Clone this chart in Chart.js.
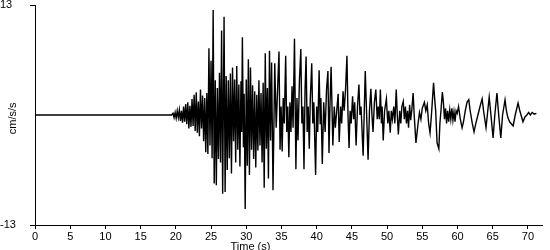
<!DOCTYPE html>
<html>
<head>
<meta charset="utf-8">
<script src="https://cdn.jsdelivr.net/npm/chart.js@4"></script>
<style>
  html, body { margin: 0; padding: 0; background: #fff; }
  #accel_chart { display: block; }
</style>
</head>
<body>
<canvas id="accel_chart" width="550" height="250"></canvas>
<script>
// time (s) and acceleration (cm/s/s)
var time = [
  0, 19.4, 19.6, 19.75, 19.9, 20.05, 20.2, 20.35, 20.5, 20.65,
  20.8, 20.95, 21.1, 21.25, 21.4, 21.55, 21.7, 21.85, 22.0, 22.15,
  22.3, 22.45, 22.6, 22.75, 22.9, 23.05, 23.2, 23.35, 23.5, 23.65,
  23.8, 23.95, 24.1, 24.25, 24.4, 24.55, 24.7, 24.85, 25.0, 25.15,
  25.3, 25.45, 25.6, 25.75, 25.9, 26.05, 26.2, 26.35, 26.5, 26.65,
  26.85, 27.0, 27.15, 27.3, 27.45, 27.6, 27.75, 27.9, 28.05, 28.2,
  28.35, 28.5, 28.65, 28.8, 28.95, 29.1, 29.25, 29.35, 29.45, 29.6,
  29.7, 29.85, 30.0, 30.15, 30.3, 30.45, 30.6, 30.75, 30.9, 31.05,
  31.2, 31.35, 31.5, 31.65, 31.8, 31.95, 32.1, 32.25, 32.4, 32.55,
  32.7, 32.85, 33.0, 33.15, 33.3, 33.45, 33.6, 33.8, 34.05, 34.25,
  34.45, 34.65, 34.8, 34.95, 35.1, 35.25, 35.4, 35.6, 35.75, 35.9,
  36.05, 36.2, 36.35, 36.5, 36.65, 36.85, 37.05, 37.2, 37.35, 37.55,
  37.75, 37.9, 38.05, 38.2, 38.35, 38.5, 38.65, 38.8, 38.95, 39.1,
  39.3, 39.45, 39.6, 39.85, 40.0, 40.15, 40.35, 40.5, 40.6, 40.8,
  41.0, 41.2, 41.4, 41.6, 41.75, 41.9, 42.05, 42.3, 42.5, 42.65,
  42.85, 43.05, 43.2, 43.4, 43.55, 43.75, 43.9, 44.1, 44.3, 44.45,
  44.6, 44.75, 44.9, 45.1, 45.25, 45.4, 45.6, 45.8, 46.0, 46.15,
  46.3, 46.6, 46.9, 47.3, 47.5, 47.7, 47.85, 48.0, 48.2, 48.4,
  48.6, 48.75, 48.9, 49.05, 49.2, 49.3, 49.45, 49.65, 49.9, 50.1,
  50.25, 50.45, 50.6, 50.75, 50.95, 51.1, 51.3, 51.45, 51.6, 51.8,
  51.95, 52.1, 52.3, 52.45, 52.6, 52.75, 52.9, 53.05, 53.2, 53.35,
  53.5, 53.7, 53.85, 54.1, 54.4, 54.6, 54.8, 55.0, 55.3, 55.5,
  55.7, 55.9, 56.1, 56.3, 56.6, 56.75, 56.9, 57.1, 57.35, 57.5,
  57.65, 57.85, 58.0, 58.15, 58.3, 58.45, 58.6, 58.75, 58.9, 59.05,
  59.2, 59.35, 59.5, 59.65, 59.8, 59.95, 60.15, 60.4, 60.65, 60.85,
  61.1, 61.35, 61.6, 61.8, 62.1, 62.35, 62.6, 62.9, 63.2, 63.5,
  63.7, 64.05, 64.3, 64.5, 64.75, 65.05, 65.3, 65.6, 65.85, 66.15,
  66.4, 66.75, 66.95, 67.15, 67.4, 67.9, 68.2, 68.6, 68.85, 69.3,
  69.6, 69.85, 70.1, 70.35, 70.6, 70.9, 71.2
];
var accel = [
  0, 0, 0.2, -0.3, 0.3, -0.4, 0.5, -0.3, 0.6, -0.7,
  0.5, -0.9, 1.0, -0.8, 1.3, -1.1, 1.5, -1.6, 1.1, -1.4,
  1.9, -1.3, 2.4, -1.9, 2.7, -2.1, 1.6, -2.5, 3.0, -1.6,
  2.3, -3.1, 2.0, -4.4, 2.6, -4.6, 7.9, -3.6, 6.4, -5.1,
  12.4, -8.1, 4.1, -8.3, 3.2, -5.2, 5.0, -5.6, 10.0, -9.3,
  11.6, -9.1, 4.6, -6.5, 4.1, -5.1, 4.9, -6.9, 5.6, -3.1,
  4.2, -5.6, 5.8, -4.1, 3.6, -6.1, 4.0, -2.0, 9.2, -3.8,
  2.5, -11.1, 4.2, -6.0, 6.6, -7.1, 5.6, -4.1, 3.5, -5.2,
  2.8, -6.2, 2.4, -4.2, 4.1, -3.6, 2.6, -5.6, 3.8, -8.6,
  7.3, -4.0, 3.2, -7.5, 7.6, -3.0, 6.2, -8.9, 6.1, -1.5,
  3.0, 7.5, -4.1, 1.0, -4.3, 2.0, -1.0, 7.0, -2.0, 1.0,
  -5.0, 1.5, -2.0, 3.4, -1.5, 9.0, -6.4, 2.0, -3.0, 4.0,
  7.8, -1.0, 1.0, -6.4, 3.0, 6.9, -2.0, 1.0, -4.0, 2.0,
  6.1, -1.0, 1.5, -7.1, 1.0, -2.0, 5.3, -1.0, 2.0, -5.8,
  1.5, -2.0, 3.0, 5.2, -4.5, 1.5, 5.7, -3.6, 1.0, -1.5,
  0.5, 2.5, -3.2, 1.0, -1.0, 2.8, 0.5, 3.0, 7.0, 0.0,
  -3.9, 0.5, -1.0, 2.2, -0.5, 1.5, -3.6, 1.0, 3.6, 0.0,
  1.0, -4.8, 5.2, -5.3, 0.5, 3.1, 0.0, -2.0, 1.5, 3.0,
  -0.5, 1.0, -0.5, 3.0, -1.0, 1.0, -3.0, 0.5, 1.9, -1.0,
  0.5, -2.1, 0.5, -0.5, 1.0, -1.0, 3.0, 0.0, -2.3, 0.5,
  -1.0, 1.0, 1.6, -0.5, 1.0, -1.0, 0.5, -1.5, 1.2, -0.6,
  0.5, 2.6, 0.0, -3.3, -1.0, 0.3, -0.5, 0.8, 1.5, 0.5,
  1.2, -1.0, -2.1, 0.0, 3.8, 2.0, 0.5, -3.3, -4.0, -1.0,
  0.5, 2.7, 1.5, -0.5, 0.8, -1.0, 0.5, -0.8, 0.6, -0.5,
  0.8, -0.6, 0.4, -0.8, 0.5, 0.2, 1.0, -0.5, -1.5, -0.8,
  0.5, 1.5, 1.8, 0.5, -1.0, -2.0, -1.0, 0.0, 1.0, 1.9,
  0.5, -1.5, 0.5, 2.1, 0.0, -2.7, 0.0, 2.6, 0.0, -2.7,
  0.0, 1.8, 0.5, -0.3, -0.8, -1.3, 0.0, 1.4, 0.5, -0.8,
  -0.2, 0.0, 0.3, 0.0, 0.3, 0.1, 0.2
];
var yTicks = [-13, 13];
var xTicks = [0, 5, 10, 15, 20, 25, 30, 35, 40, 45, 50, 55, 60, 65, 70];
var xMax = 72;

var points = time.map(function (t, i) { return { x: t, y: accel[i] }; });

var labelFont = { family: "'Liberation Sans', Arial, sans-serif", size: 11 };

// axis titles drawn where the reference puts them
var axisTitles = {
  id: 'axisTitles',
  afterDraw: function (chart) {
    var ctx = chart.ctx;
    var xs = chart.scales.x, ys = chart.scales.y;
    ctx.save();
    ctx.fillStyle = '#000';
    ctx.font = "11px 'Liberation Sans', Arial, sans-serif";
    ctx.textAlign = 'center';
    ctx.textBaseline = 'alphabetic';
    ctx.fillText('Time (s)', xs.getPixelForValue(30.6), 250);
    ctx.translate(16, ys.getPixelForValue(-0.4));
    ctx.rotate(-Math.PI / 2);
    ctx.fillText('cm/s/s', 0, 0);
    ctx.restore();
  }
};

var accel_cntxt = document.getElementById('accel_chart').getContext('2d');
var accel_chart = new Chart(accel_cntxt, {
  type: 'line',
  data: {
    datasets: [{
      data: points,
      borderColor: '#000',
      borderWidth: 1.4,
      pointRadius: 0,
      tension: 0,
      fill: false
    }]
  },
  options: {
    responsive: false,
    animation: false,
    layout: { padding: { top: 5, right: 8, left: 0, bottom: 0 } },
    plugins: { legend: { display: false }, tooltip: { enabled: false } },
    scales: {
      x: {
        type: 'linear',
        min: 0,
        max: xMax,
        ticks: { autoSkip: false, color: '#000', font: labelFont, padding: 1, maxRotation: 0 },
        afterBuildTicks: function (scale) {
          scale.ticks = xTicks.map(function (v) { return { value: v }; });
        },
        afterFit: function (scale) { scale.height = 25; },
        grid: { drawOnChartArea: false, drawTicks: true, tickLength: 4, color: '#000' },
        border: { display: true, color: '#000', width: 1 }
      },
      y: {
        min: -13,
        max: 13,
        ticks: { color: '#000', font: labelFont, crossAlign: 'far', padding: 2 },
        afterBuildTicks: function (scale) {
          scale.ticks = yTicks.map(function (v) { return { value: v }; });
        },
        afterFit: function (scale) {
          scale.width = 35;
          scale.paddingTop = 0;
          scale.paddingBottom = 0;
        },
        grid: { drawOnChartArea: false, drawTicks: true, tickLength: 5, color: '#000' },
        border: { display: true, color: '#000', width: 1 }
      }
    }
  },
  plugins: [axisTitles]
});
</script>
</body>
</html>
